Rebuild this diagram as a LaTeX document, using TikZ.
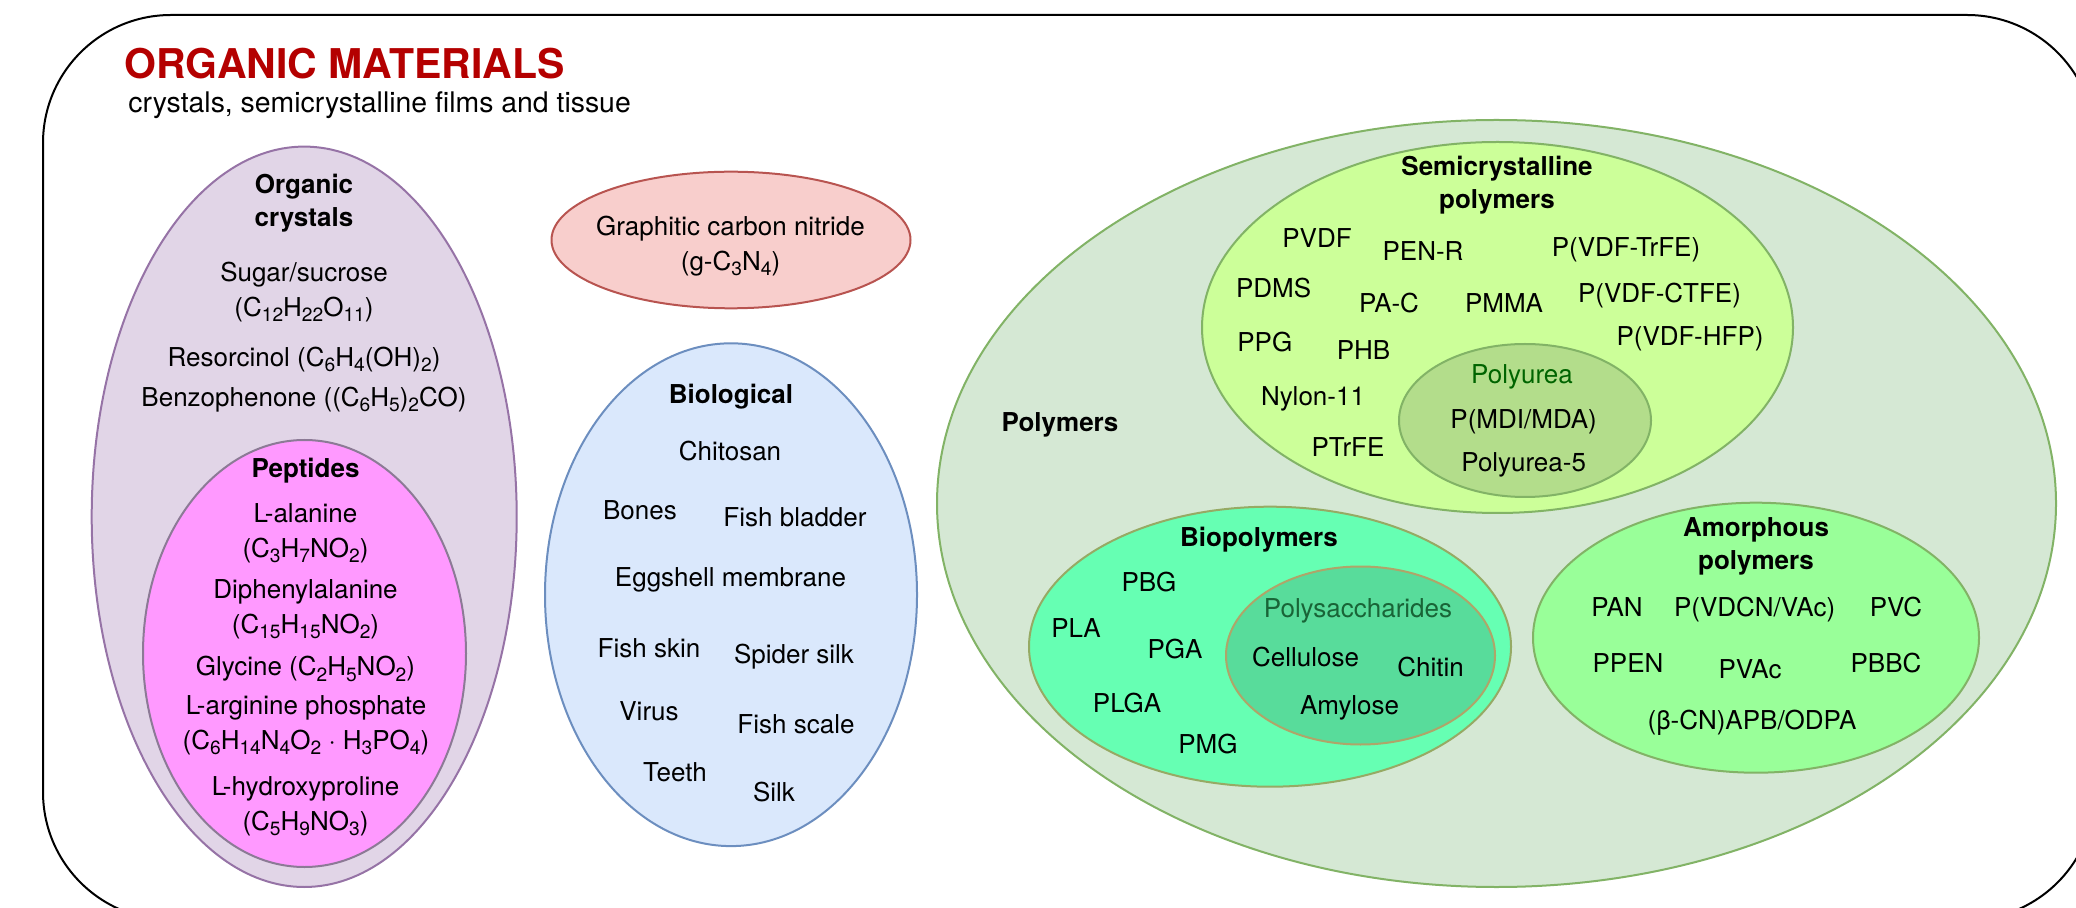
\documentclass[tikz,border=0pt]{standalone}
\usepackage{fontspec}
\setmainfont{TeX Gyre Heros}
\usetikzlibrary{shapes.geometric}
\definecolor{titlered}{RGB}{180,0,0}
\definecolor{ocfill}{HTML}{E1D5E7}
\definecolor{ocdraw}{HTML}{9673A6}
\definecolor{pepfill}{HTML}{FF99FF}
\definecolor{pepdraw}{RGB}{140,122,150}
\definecolor{gcfill}{HTML}{F8CECC}
\definecolor{gcdraw}{HTML}{B85450}
\definecolor{biofill}{HTML}{DAE8FC}
\definecolor{biodraw}{HTML}{6C8EBF}
\definecolor{polyfill}{HTML}{D5E8D4}
\definecolor{polydraw}{HTML}{82B366}
\definecolor{scfill}{HTML}{CCFF99}
\definecolor{pufill}{RGB}{179,221,139}
\definecolor{bpfill}{HTML}{66FFB3}
\definecolor{bpdraw}{RGB}{150,170,100}
\definecolor{psfill}{RGB}{88,220,155}
\definecolor{psdraw}{RGB}{175,165,105}
\definecolor{amfill}{HTML}{99FF99}
\definecolor{pstext}{RGB}{25,100,55}
\definecolor{putext}{RGB}{0,100,0}
\newcommand\sub[1]{\raisebox{-2.6pt}{\fontsize{9.6pt}{9.6pt}\selectfont #1}}
\tikzset{
  frame/.style={draw=black, line width=1pt, rounded corners=64pt},
  ell/.style={ellipse, line width=1pt, inner sep=0pt, outer sep=0pt},
  tx/.style={font=\fontsize{13pt}{17.5pt}\selectfont, align=center, inner sep=0pt},
  hd/.style={font=\fontsize{13pt}{16.5pt}\selectfont\bfseries, align=center, inner sep=0pt},
}
\begin{document}
\begin{tikzpicture}[x=0.5pt,y=-0.5pt]
\useasboundingbox (0,0) rectangle (2076,908);
\clip (0,0) rectangle (2076,908);
\draw[frame] (43,15) rectangle (2095,920);
\node[anchor=west, inner sep=0pt, text=titlered, font=\fontsize{20.5pt}{24pt}\selectfont\bfseries] (title) at (124,64) {ORGANIC MATERIALS};
\node[anchor=west, inner sep=0pt, font=\fontsize{14.2pt}{17pt}\selectfont] (subtitle) at (128,105) {crystals, semicrystalline films and tissue};
% ellipses
\node[ell, fill=ocfill, draw=ocdraw, minimum width=212.5pt, minimum height=370.2pt] (oc) at (304.2,516.8) {};
\node[ell, fill=pepfill, draw=pepdraw, minimum width=161.5pt, minimum height=213.5pt] (pep) at (304.5,653.5) {};
\node[ell, fill=gcfill, draw=gcdraw, minimum width=179.5pt, minimum height=68.3pt] (gc) at (731,240) {};
\node[ell, fill=biofill, draw=biodraw, minimum width=186pt, minimum height=251.4pt] (bio) at (731,594.7) {};
\node[ell, fill=polyfill, draw=polydraw, minimum width=559.5pt, minimum height=383.5pt] (poly) at (1496.5,503.5) {};
\node[ell, fill=scfill, draw=polydraw, minimum width=295.5pt, minimum height=185.5pt] (sc) at (1497.5,327.5) {};
\node[ell, fill=pufill, draw=polydraw, minimum width=126pt, minimum height=76.5pt] (pu) at (1525,420.5) {};
\node[ell, fill=bpfill, draw=bpdraw, minimum width=241pt, minimum height=140pt] (bp) at (1270,646.7) {};
\node[ell, fill=psfill, draw=psdraw, minimum width=134.5pt, minimum height=89pt] (ps) at (1360.5,655.5) {};
\node[ell, fill=amfill, draw=polydraw, minimum width=223pt, minimum height=135pt] (am) at (1756,637.7) {};
% organic crystals
\node[hd] (t-oc) at (304,203) {Organic\\crystals};
\node[tx] (t-sugar) at (304,291.7) {Sugar/sucrose\\(C\sub{12}H\sub{22}O\sub{11})};
\node[tx] (t-res) at (304,359.3) {Resorcinol (C\sub{6}H\sub{4}(OH)\sub{2})};
\node[tx] (t-benz) at (304,399.3) {Benzophenone ((C\sub{6}H\sub{5})\sub{2}CO)};
\node[hd] (t-pep) at (305.5,471) {Peptides};
\node[tx] (t-ala) at (305.5,532.8) {L-alanine\\(C\sub{3}H\sub{7}NO\sub{2})};
\node[tx] (t-diph) at (305.5,609) {Diphenylalanine\\(C\sub{15}H\sub{15}NO\sub{2})};
\node[tx] (t-gly) at (305.5,669) {Glycine (C\sub{2}H\sub{5}NO\sub{2})};
\node[tx] (t-arg) at (306,725.5) {L-arginine phosphate\\(C\sub{6}H\sub{14}N\sub{4}O\sub{2} · H\sub{3}PO\sub{4})};
\node[tx] (t-hyd) at (305.5,806) {L-hydroxyproline\\(C\sub{5}H\sub{9}NO\sub{3})};
% graphitic carbon nitride
\node[tx] (t-gc) at (730.5,245.8) {Graphitic carbon nitride\\(g-C\sub{3}N\sub{4})};
% biological
\node[hd] (t-bio) at (731,397) {Biological};
\node[tx] (t-chit) at (730,451) {Chitosan};
\node[tx] (t-bones) at (640,510) {Bones};
\node[tx] (t-fbl) at (795,517) {Fish bladder};
\node[tx] (t-egg) at (730.5,580) {Eggshell membrane};
\node[tx] (t-fsk) at (649,648) {Fish skin};
\node[tx] (t-spi) at (794,656.5) {Spider silk};
\node[tx] (t-vir) at (649,711.6) {Virus};
\node[tx] (t-fsc) at (796,724.2) {Fish scale};
\node[tx] (t-tee) at (675,772.5) {Teeth};
\node[tx] (t-silk) at (774,792) {Silk};
% polymers
\node[hd] (t-poly) at (1060,425) {Polymers};
\node[hd] (t-sc) at (1497,185.4) {Semicrystalline\\polymers};
\node[tx] (t-pvdf) at (1317,238) {PVDF};
\node[tx] (t-penr) at (1423,250.7) {PEN-R};
\node[tx] (t-trfe) at (1626,250) {P(VDF-TrFE)};
\node[tx] (t-pdms) at (1273.6,288) {PDMS};
\node[tx] (t-pac) at (1389,303) {PA-C};
\node[tx] (t-pmma) at (1504,303) {PMMA};
\node[tx] (t-ctfe) at (1659.5,296) {P(VDF-CTFE)};
\node[tx] (t-ppg) at (1264.8,341.7) {PPG};
\node[tx] (t-phb) at (1363.5,350) {PHB};
\node[tx] (t-hfp) at (1690,339) {P(VDF-HFP)};
\node[tx] (t-nyl) at (1313,399) {Nylon-11};
\node[tx] (t-ptrfe) at (1348,446.7) {PTrFE};
\node[tx, text=putext] (t-pu) at (1522,376.7) {Polyurea};
\node[tx] (t-mdi) at (1523.6,421.7) {P(MDI/MDA)};
\node[tx] (t-pu5) at (1523.6,465) {Polyurea-5};
% biopolymers
\node[hd] (t-bp) at (1259,539.3) {Biopolymers};
\node[tx] (t-pbg) at (1149,581.7) {PBG};
\node[tx] (t-pla) at (1076,628) {PLA};
\node[tx] (t-pga) at (1175,649) {PGA};
\node[tx] (t-plga) at (1127,702.7) {PLGA};
\node[tx] (t-pmg) at (1208,744) {PMG};
\node[tx, text=pstext] (t-ps) at (1358,611) {Polysaccharides};
\node[tx] (t-cell) at (1305.5,656.7) {Cellulose};
\node[tx] (t-chitin) at (1430.5,667.5) {Chitin};
\node[tx] (t-amy) at (1349.5,707.8) {Amylose};
% amorphous
\node[hd] (t-am) at (1756,546.7) {Amorphous\\polymers};
\node[tx] (t-pan) at (1617,606.7) {PAN};
\node[tx] (t-vdcn) at (1754.6,609.3) {P(VDCN/VAc)};
\node[tx] (t-pvc) at (1896,606.7) {PVC};
\node[tx] (t-ppen) at (1628,663.3) {PPEN};
\node[tx] (t-pvac) at (1750,669.3) {PVAc};
\node[tx] (t-pbbc) at (1886,663.3) {PBBC};
\node[tx] (t-apb) at (1752,722.7) {(β-CN)APB/ODPA};
\end{tikzpicture}
\end{document}
